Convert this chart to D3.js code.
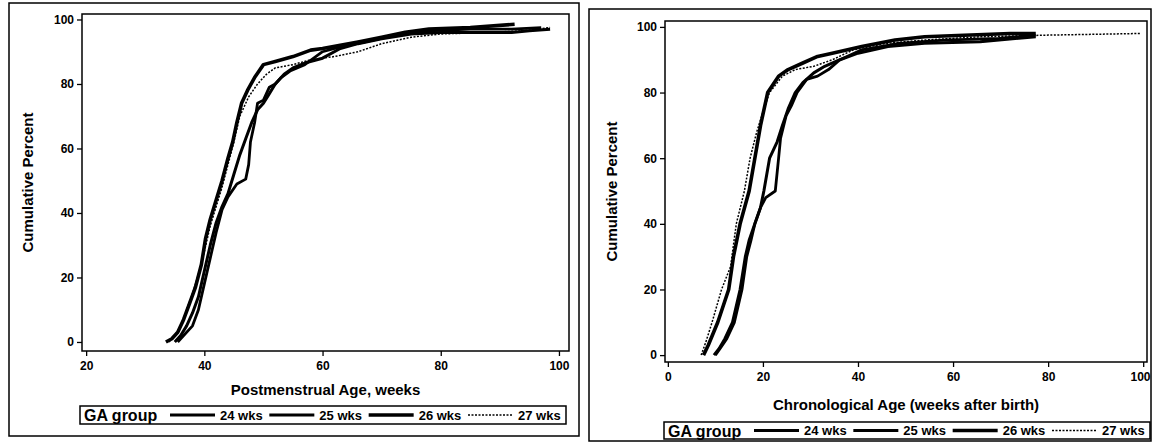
<!DOCTYPE html>
<html>
<head>
<meta charset="utf-8">
<script src="https://cdn.jsdelivr.net/npm/d3@7"></script>
<style>
  body { margin: 0; background: #fff; }
  svg text { font-family: "Liberation Sans", Arial, sans-serif; font-weight: bold; fill: #000; }
</style>
</head>
<body>
<div class="chart"></div>
<script>
// DATA
// ----------------------------
const groups = ['24 wks', '25 wks', '26 wks', '27 wks']
const yTicks = [0, 20, 40, 60, 80, 100]
const pmaTicks = [20, 40, 60, 80, 100]
const chronoTicks = [0, 20, 40, 60, 80, 100]

// left panel: postmenstrual age (weeks), cumulative percent
const pma24 = [[35.5,0],[36.5,2],[38,5],[39,10],[40,18],[41,26],[42,34],[43,41],[44,45],[45.5,49],[47,50.5],[47.5,55],[47.8,62],[48.5,68],[49,74],[50,75],[51,79],[52,80],[53,82],[54.5,84],[57,86],[60,90],[63,91.5],[67,93],[72,95],[78,96.5],[85,97],[92,97],[97,97.5]]
const pma25 = [[35,0],[36,2],[37,5],[38,9],[39,14],[40,22],[41,30],[42,37],[43,42],[44,46],[45,52],[46,58],[47,63],[48,68],[49,72],[50,74],[51,77],[52,80],[53.5,83],[55,85],[57,86.5],[60,88],[63,91],[66,92.5],[70,94],[75,95.5],[80,96],[88,96],[92,96],[95,96.5],[98.5,97]]
const pma26 = [[33.5,0],[34.5,1],[35.5,3],[36.5,7],[37.5,12],[38.5,17],[39.5,24],[40.2,32],[41,38],[42,44],[43,50],[44,57],[44.8,62],[45.5,68],[46.3,74],[47.3,78],[48.5,82],[50,86],[52,87],[55,88.5],[58,90.5],[60,91],[63,92],[66,93],[70,94.5],[74,96],[78,97],[85,97.5],[92.5,98.5]]
const pma27 = [[34,0],[35,2],[36,5],[37,10],[38,15],[39,21],[40,28],[41,36],[42,42],[43,48],[44,55],[45,62],[46,70],[47.5,76],[49,80],[50.5,83],[52,85],[55,86],[58,87.5],[62,88.5],[66,90],[70,92.5],[75,94.5],[80,95.5],[88,96],[94,96.5],[98.5,97.5]]

// right panel: chronological age (weeks after birth), cumulative percent
const chrono24 = [[10,0],[11,2],[12.4,5],[14,10],[15.6,20],[16.6,30],[17.5,35],[18.3,40],[19.5,45],[20.6,48],[22.6,50],[23.3,60],[23.7,66],[24.9,73],[26,76],[27.2,80],[29.2,84],[31.5,85],[33.8,87],[36.2,90],[40.8,93],[48.6,95],[58,96],[69.6,96.5],[77.4,97.5]]
const chrono25 = [[9.7,0],[10.8,2],[12,5],[13.6,10],[15.2,20],[16.3,30],[17.1,35],[18.3,40],[19.5,45],[20.2,50],[21.4,60],[23,65],[24.1,70],[25.3,75],[26.8,80],[28.4,83],[30.7,86],[33,88],[36.2,90],[40,92],[46.3,94],[54,95],[65.7,95.5],[77.4,97]]
const chrono26 = [[7.5,0],[8.5,3],[10.5,10],[12.8,20],[13.8,30],[15.2,40],[17.1,50],[18.3,60],[19.5,70],[21,80],[23.3,85],[25.3,87],[28.4,89],[31.5,91],[34.6,92],[40.8,94],[47.8,96],[54,97],[72,98],[77.4,98]]
const chrono27 = [[7,0],[8,4],[9.3,10],[11.3,20],[13.2,27],[14.4,40],[16.1,50],[17.3,60],[18.7,68],[20.2,75],[21.4,80],[24.1,85],[26.8,87],[30.7,88],[34.6,90],[39,93],[46,95],[54,96],[65.7,97],[80,97.5],[99.6,98]]

// STYLES for each GA group
// ----------------------------
const lineStyle = {
  '24 wks': { width: 2.8, dash: null },
  '25 wks': { width: 3, dash: null },
  '26 wks': { width: 3.6, dash: null },
  '27 wks': { width: 1.5, dash: '2,1.5' }
}

// SETUP
// ----------------------------
const svg = d3.select('.chart')
  .append('svg')
    .attr('width', 1152)
    .attr('height', 443)

const panels = [
  {
    frame: { x: 9, y: 3, w: 570, h: 433 },
    plot: { left: 82, top: 14, right: 569, bottom: 351 },
    xDomain: [19.3, 101.7], yDomain: [-2.8, 101.7],
    xTicks: pmaTicks,
    series: [pma24, pma25, pma26, pma27],
    xTitle: 'Postmenstrual Age, weeks', xTitleY: 390,
    yTitleX: 28, tickLabelY: 366,
    legend: { x: 80, y: 406, w: 486, h: 18 }
  },
  {
    frame: { x: 589, y: 9, w: 562, h: 432 },
    plot: { left: 665, top: 21, right: 1147, bottom: 362 },
    xDomain: [-0.6, 100.8], yDomain: [-2.1, 101.8],
    xTicks: chronoTicks,
    series: [chrono24, chrono25, chrono26, chrono27],
    xTitle: 'Chronological Age (weeks after birth)', xTitleY: 405,
    yTitleX: 612, tickLabelY: 377,
    legend: { x: 664, y: 422, w: 486, h: 17 }
  }
]

panels.forEach(drawPanel)

function drawPanel (p) {
  const g = svg.append('g')

  // outer frame
  g.append('rect')
    .attr('x', p.frame.x).attr('y', p.frame.y)
    .attr('width', p.frame.w).attr('height', p.frame.h)
    .attr('fill', 'none').attr('stroke', '#000').attr('stroke-width', 1.5)

  const xScale = d3.scaleLinear().domain(p.xDomain).range([p.plot.left, p.plot.right])
  const yScale = d3.scaleLinear().domain(p.yDomain).range([p.plot.bottom, p.plot.top])

  // plot box
  g.append('rect')
    .attr('x', p.plot.left).attr('y', p.plot.top)
    .attr('width', p.plot.right - p.plot.left).attr('height', p.plot.bottom - p.plot.top)
    .attr('fill', 'none').attr('stroke', '#000').attr('stroke-width', 1.5)

  // Y AXIS
  const yAxis = d3.axisLeft(yScale).tickValues(yTicks).tickSize(5).tickPadding(3)
  const yg = g.append('g')
    .attr('transform', `translate(${p.plot.left}, 0)`)
    .call(yAxis)
  yg.select('.domain').remove()
  yg.selectAll('line').attr('stroke-width', 1.3)
  yg.selectAll('text').style('font-size', '12px').attr('fill', '#000')

  // X AXIS
  const xAxis = d3.axisBottom(xScale).tickValues(p.xTicks).tickSize(5).tickPadding(4)
  const xg = g.append('g')
    .attr('transform', `translate(0, ${p.plot.bottom})`)
    .call(xAxis)
  xg.select('.domain').remove()
  xg.selectAll('line').attr('stroke-width', 1.3)
  xg.selectAll('text').style('font-size', '12px').attr('fill', '#000')
    .attr('y', p.tickLabelY - p.plot.bottom + 4).attr('dy', null)
    // keep the last label inside the page edge
    .attr('x', d => Math.min(0, 1140 - xScale(d)))

  // axis titles
  g.append('text')
    .attr('x', (p.plot.left + p.plot.right) / 2)
    .attr('y', p.xTitleY + 5)
    .attr('text-anchor', 'middle')
    .style('font-size', '15px')
    .text(p.xTitle)

  g.append('text')
    .attr('transform', `translate(${p.yTitleX + 5}, ${(p.plot.top + p.plot.bottom) / 2}) rotate(-90)`)
    .attr('text-anchor', 'middle')
    .style('font-size', '15px')
    .text('Cumulative Percent')

  // curves
  const line = d3.line()
    .x(d => xScale(d[0]))
    .y(d => yScale(d[1]))

  p.series.forEach((data, i) => {
    const st = lineStyle[groups[i]]
    g.append('path')
      .datum(data)
      .attr('d', line)
      .attr('fill', 'none')
      .attr('stroke', '#000')
      .attr('stroke-width', st.width)
      .attr('stroke-dasharray', st.dash)
      .attr('stroke-linejoin', 'round')
  })

  // legend
  const L = p.legend
  const lg = g.append('g').attr('transform', `translate(${L.x}, ${L.y})`)
  lg.append('rect')
    .attr('width', L.w).attr('height', L.h)
    .attr('fill', '#fff').attr('stroke', '#000').attr('stroke-width', 1.5)
  lg.append('text')
    .attr('x', 4).attr('y', L.h / 2 + 6)
    .style('font-size', '16px')
    .text('GA group')

  const itemX = d3.scalePoint().domain(groups).range([90, 388])
  groups.forEach(gr => {
    const st = lineStyle[gr]
    const x0 = itemX(gr)
    lg.append('line')
      .attr('x1', x0).attr('x2', x0 + 45)
      .attr('y1', L.h / 2).attr('y2', L.h / 2)
      .attr('stroke', '#000')
      .attr('stroke-width', st.width)
      .attr('stroke-dasharray', st.dash)
    lg.append('text')
      .attr('x', x0 + 50).attr('y', L.h / 2 + 4.5)
      .style('font-size', '13px')
      .text(gr)
  })
}
</script>
</body>
</html>
